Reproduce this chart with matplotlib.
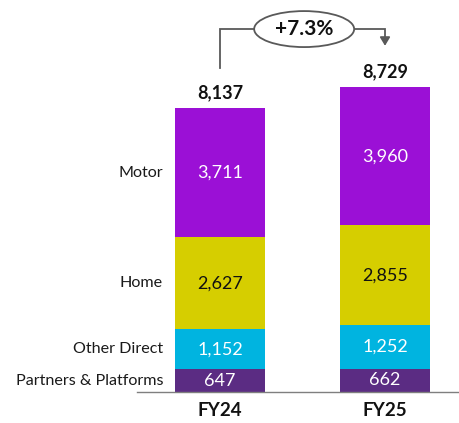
import matplotlib
matplotlib.use("Agg")
import matplotlib.pyplot as plt
from matplotlib.patches import Ellipse

years = ["FY24", "FY25"]
segments = ["Partners & Platforms", "Other Direct", "Home", "Motor"]
partners = [647, 662]
other_direct = [1152, 1252]
home = [2627, 2855]
motor = [3711, 3960]
totals = [8137, 8729]
growth_label = "+7.3%"

colors = {"Partners & Platforms": "#5B2C83", "Other Direct": "#00B4E0",
          "Home": "#D6CE00", "Motor": "#9B10D6"}
text_colors = {"Partners & Platforms": "white", "Other Direct": "white",
               "Home": "#111111", "Motor": "white"}

plt.rcParams['font.family'] = ['Lato', 'DejaVu Sans']

W, H = 460, 423
fig = plt.figure(figsize=(W / 100, H / 100), dpi=100)
ax_left, ax_bottom_px = 137, 392
ax = fig.add_axes([ax_left / W, 1 - ax_bottom_px / H, (W - ax_left) / W, ax_bottom_px / H])
ax.set_xlim(-83 / 165, 240 / 165)
px_per_unit = 0.03494
ax.set_ylim(0, ax_bottom_px / px_per_unit)

series = [partners, other_direct, home, motor]
x = list(range(len(years)))
bottoms = [0] * len(years)
for name, vals in zip(segments, series):
    ax.bar(x, vals, bottom=bottoms, width=90 / 165, color=colors[name], linewidth=0)
    for i, v in enumerate(vals):
        ax.text(x[i], bottoms[i] + v / 2, f"{v:,}", ha="center", va="center",
                fontsize=13, color=text_colors[name])
    # category label at left, aligned with FY24 segment
    ax.text(-0.345, bottoms[0] + vals[0] / 2, name, ha="right", va="center",
            fontsize=11.6, color="#1a1a1a", clip_on=False)
    bottoms = [b + v for b, v in zip(bottoms, vals)]

for i, t in enumerate(totals):
    ax.text(x[i], t + 180, f"{t:,}", ha="center", va="bottom", fontsize=13,
            fontweight="bold", color="#111111")

for i, yl in enumerate(years):
    ax.text(x[i], -520, yl, ha="center", va="center", fontsize=13.5,
            fontweight="bold", color="#111111", clip_on=False)

for s in ["top", "right", "left"]:
    ax.spines[s].set_visible(False)
ax.spines["bottom"].set_color("#7f7f7f")
ax.spines["bottom"].set_linewidth(1.0)
ax.set_xticks([])
ax.set_yticks([])

# growth bracket
gc = "#595959"
y_top = totals[0] + 2250
y_start = totals[0] + 1140
y_end = totals[1] + 1100
ell_cx = 0.51
ell_w = 100 / 165
ax.plot([x[0], x[0], ell_cx - ell_w / 2], [y_start, y_top, y_top], color=gc, lw=1.3,
        clip_on=False, solid_joinstyle="miter")
ax.plot([ell_cx + ell_w / 2, x[1], x[1]], [y_top, y_top, y_end + 250], color=gc, lw=1.3,
        clip_on=False, solid_joinstyle="miter")
ax.annotate("", xy=(x[1], y_end), xytext=(x[1], y_end + 300),
            arrowprops=dict(arrowstyle="-|>,head_length=0.5,head_width=0.3", color=gc, lw=1.3))
ax.add_patch(Ellipse((ell_cx, y_top), ell_w, 36 / px_per_unit, facecolor="white",
                     edgecolor=gc, lw=1.3, clip_on=False, zorder=3))
ax.text(ell_cx, y_top, growth_label, ha="center", va="center", fontsize=15,
        fontweight="bold", color="#111111", zorder=4)

fig.savefig("out.png", dpi=100)
